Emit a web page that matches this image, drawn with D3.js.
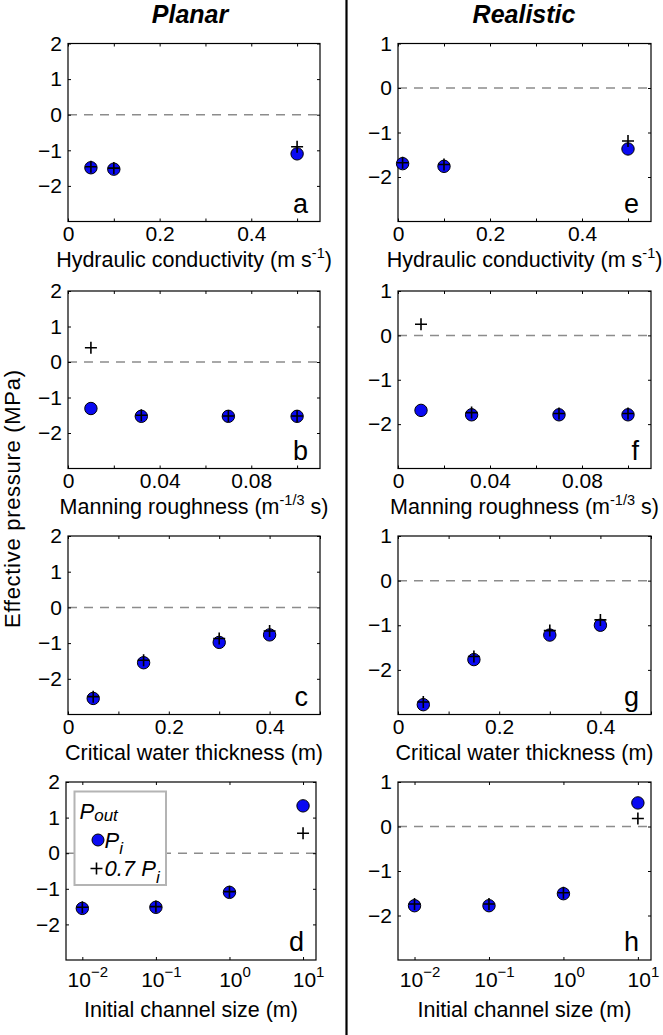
<!DOCTYPE html>
<html><head><meta charset="utf-8">
<script src="https://cdn.jsdelivr.net/npm/d3@7"></script>
<style>
html,body{margin:0;padding:0;background:#fff;}
svg{display:block;font-family:"Liberation Sans",Arial,Helvetica,sans-serif;}
</style></head>
<body>
<svg id="chart" width="663" height="1035"></svg>
<script>
// ---------- data ----------
const columnTitles = ["Planar", "Realistic"];
const yAxisTitle = "Effective pressure (MPa)";
const panelLetters = ["a", "b", "c", "d", "e", "f", "g", "h"];

const yTicksPlanar = [-2, -1, 0, 1, 2];
const yTicksRealistic = [-2, -1, 0, 1];

const hydTicks = [0, 0.1, 0.2, 0.3, 0.4, 0.5];
const hydTickLabels = [0, 0.2, 0.4];
const manningTicks = [0, 0.02, 0.04, 0.06, 0.08, 0.1];
const manningTickLabels = [0, 0.04, 0.08];
const critTicks = [0, 0.1, 0.2, 0.3, 0.4, 0.5];
const critTickLabels = [0, 0.2, 0.4];
const chanTicks = [0.01, 0.1, 1, 10];
const chanTickLabels = [0.01, 0.1, 1, 10];

// hydraulic conductivity (m s-1)
const hydPlanarX = [0.05, 0.1, 0.5];
const hydPlanarPi = [-1.49, -1.53, -1.10];
const hydPlanar07 = [-1.46, -1.50, -0.90];
const hydRealX = [0.01, 0.1, 0.5];
const hydRealPi = [-1.70, -1.76, -1.37];
const hydReal07 = [-1.68, -1.72, -1.19];
// Manning roughness
const manningX = [0.01, 0.032, 0.07, 0.1];
const manningPlanarPi = [-1.31, -1.53, -1.53, -1.53];
const manningPlanar07 = [0.40, -1.50, -1.52, -1.52];
const manningRealPi = [-1.69, -1.79, -1.79, -1.79];
const manningReal07 = [0.25, -1.74, -1.76, -1.76];
// critical water thickness
const critX = [0.05, 0.15, 0.3, 0.4];
const critPlanarPi = [-2.55, -1.55, -0.98, -0.77];
const critPlanar07 = [-2.50, -1.48, -0.87, -0.66];
const critRealPi = [-2.78, -1.77, -1.22, -1.00];
const critReal07 = [-2.72, -1.70, -1.12, -0.88];
// initial channel size
const chanX = [0.01, 0.1, 1, 10];
const chanPlanarPi = [-1.55, -1.52, -1.10, 1.33];
const chanPlanar07 = [-1.52, -1.50, -1.08, 0.56];
const chanRealPi = [-1.78, -1.78, -1.51, 0.53];
const chanReal07 = [-1.74, -1.74, -1.49, 0.18];

const legendLabels = ["P", "out", "P", "i", "0.7 P", "i"];

// ---------- layout ----------
const svg = d3.select("#chart");
const TICK_FONT = 21;
const TITLE_FONT = 21.5;
const BLUE = "#0a0af2";
const colX = [[68, 320], [398, 651]];
const rowY = [[43.5, 221.5], [291, 468.5], [536, 714.5], [782, 960]];

const xConfigs = [
  {type: "lin", dom: [0, 0.55], ticks: hydTicks, labels: hydTickLabels,
   title: ["Hydraulic conductivity (m s", "-1", ")"]},
  {type: "lin", dom: [0, 0.11], ticks: manningTicks, labels: manningTickLabels,
   title: ["Manning roughness (m", "-1/3", " s)"]},
  {type: "lin", dom: [0, 0.5], ticks: critTicks, labels: critTickLabels,
   title: ["Critical water thickness (m)"]},
  {type: "log", dom: [0.006, 15], ticks: chanTicks, labels: chanTickLabels,
   title: ["Initial channel size (m)"]}
];

const panelData = [
  [ {x: hydPlanarX, pi: hydPlanarPi, p07: hydPlanar07},
    {x: manningX, pi: manningPlanarPi, p07: manningPlanar07},
    {x: critX, pi: critPlanarPi, p07: critPlanar07},
    {x: chanX, pi: chanPlanarPi, p07: chanPlanar07} ],
  [ {x: hydRealX, pi: hydRealPi, p07: hydReal07},
    {x: manningX, pi: manningRealPi, p07: manningReal07},
    {x: critX, pi: critRealPi, p07: critReal07},
    {x: chanX, pi: chanRealPi, p07: chanReal07} ]
];

const crossPath = "M-6,0H6M0,-6V6";

// column titles
columnTitles.forEach((t, c) => {
  svg.append("text").attr("x", c === 0 ? 190 : 524).attr("y", 23)
    .attr("text-anchor", "middle").attr("font-size", 25)
    .attr("font-weight", "bold").attr("font-style", "italic").text(t);
});

// divider
svg.append("line").attr("x1", 346.5).attr("x2", 346.5).attr("y1", 0).attr("y2", 1035)
  .attr("stroke", "#000").attr("stroke-width", 2.2);

// y-axis title
svg.append("text").attr("transform", "translate(20,499) rotate(-90)")
  .attr("text-anchor", "middle").attr("font-size", 22)
  .attr("textLength", 258).attr("lengthAdjust", "spacing").text(yAxisTitle);

for (let c = 0; c < 2; c++) {
  for (let r = 0; r < 4; r++) {
    let [L, R] = colX[c];
    if (c === 0 && r === 3) { L = 66; R = 316; }
    const [T, B] = rowY[r];
    const W = R - L, H = B - T;
    const cfg = xConfigs[r];
    const d = panelData[c][r];
    const g = svg.append("g").attr("transform", `translate(${L},${T})`);

    const x = (cfg.type === "log" ? d3.scaleLog() : d3.scaleLinear()).domain(cfg.dom).range([0, W]);
    const y = d3.scaleLinear().domain([-3, c === 0 ? 2 : 1]).range([H, 0]);
    const yt = c === 0 ? yTicksPlanar : yTicksRealistic;

    // zero line
    g.append("line").attr("x1", 0).attr("x2", W).attr("y1", y(0)).attr("y2", y(0))
      .attr("stroke", "#8c8c8c").attr("stroke-width", 1.5).attr("stroke-dasharray", "9,7");

    // axes
    const styleAxis = sel => {
      sel.select(".domain").remove();
      sel.attr("font-family", null).attr("font-size", TICK_FONT);
      sel.selectAll(".tick line").attr("stroke", "#000");
      sel.selectAll(".tick text").attr("fill", "#000");
    };
    const isLab = v => cfg.labels.some(l => Math.abs(l - v) < 1e-9);
    let fmt;
    if (cfg.type === "log") fmt = v => isLab(v) ? String(Math.round(Math.log10(v))) : "";
    else fmt = v => isLab(v) ? String(+v.toFixed(3)) : "";

    const xb = g.append("g").attr("transform", `translate(0,${H})`)
      .call(d3.axisBottom(x).tickValues(cfg.ticks).tickSize(-3)
        .tickPadding(cfg.type === "log" ? 12 : 5).tickFormat(fmt))
      .call(styleAxis);
    if (cfg.type === "log") {
      xb.selectAll(".tick text").each(function() {
        const t = d3.select(this);
        const e = t.text();
        t.text("").attr("font-size", 21);
        t.append("tspan").text("10");
        t.append("tspan").attr("dy", -10).attr("font-size", 15)
          .text(e.replace("-", "\u2212"));
      });
      xb.selectAll(".tick text").attr("dx", 5);
    }
    g.append("g").call(d3.axisTop(x).tickValues(cfg.ticks).tickSize(-3).tickFormat(""))
      .call(styleAxis);
    g.append("g").call(d3.axisLeft(y).tickValues(yt).tickSize(-3).tickPadding(6)
      .tickFormat(d3.format(".0f"))).call(styleAxis);
    g.append("g").attr("transform", `translate(${W},0)`)
      .call(d3.axisRight(y).tickValues(yt).tickSize(-3).tickFormat("")).call(styleAxis);

    // box
    g.append("rect").attr("width", W).attr("height", H)
      .attr("fill", "none").attr("stroke", "#000").attr("stroke-width", 1.2);

    // points
    const pts = d.x.map((xv, i) => ({x: xv, pi: d.pi[i], p07: d.p07[i]}));
    g.selectAll("circle.pi").data(pts).join("circle").attr("class", "pi")
      .attr("cx", p => x(p.x)).attr("cy", p => y(p.pi)).attr("r", 6.2)
      .attr("fill", BLUE).attr("stroke", "#000").attr("stroke-width", 1);
    g.selectAll("path.p07").data(pts).join("path").attr("class", "p07")
      .attr("transform", p => `translate(${x(p.x)},${y(p.p07)})`)
      .attr("d", crossPath).attr("stroke", "#000").attr("stroke-width", 1.6).attr("fill", "none");

    // panel letter
    g.append("text").attr("x", W - 12).attr("y", H - 9).attr("text-anchor", "end")
      .attr("font-size", 27).text(panelLetters[c * 4 + r]);

    // x title
    const xt = g.append("text").attr("x", W / 2)
      .attr("y", H + (cfg.type === "log" ? 57 : 45))
      .attr("text-anchor", "middle").attr("font-size", TITLE_FONT);
    xt.append("tspan").text(cfg.title[0]);
    if (cfg.title.length > 1) {
      xt.append("tspan").attr("dy", -9).attr("font-size", 14.5).text(cfg.title[1]);
      xt.append("tspan").attr("dy", 9).text(cfg.title[2]);
    }

    // legend in panel d
    if (c === 0 && r === 3) {
      const lg = g.append("g").attr("transform", "translate(8.5,9.5)");
      lg.append("rect").attr("width", 91.5).attr("height", 93.5)
        .attr("fill", "#fff").attr("stroke", "#b4b4b4").attr("stroke-width", 2);
      const t1 = lg.append("text").attr("x", 5).attr("y", 27).attr("font-size", 22)
        .attr("font-style", "italic");
      t1.append("tspan").text(legendLabels[0]);
      t1.append("tspan").attr("dy", 2).attr("font-size", 17).text(legendLabels[1]);
      lg.append("circle").attr("cx", 23.5).attr("cy", 48.5).attr("r", 6)
        .attr("fill", BLUE).attr("stroke", "#000");
      const t2 = lg.append("text").attr("x", 30).attr("y", 56).attr("font-size", 22)
        .attr("font-style", "italic");
      t2.append("tspan").text(legendLabels[2]);
      t2.append("tspan").attr("dy", 6).attr("font-size", 17).text(legendLabels[3]);
      lg.append("path").attr("transform", "translate(22,77)").attr("d", crossPath)
        .attr("stroke", "#000").attr("stroke-width", 1.6);
      const t3 = lg.append("text").attr("x", 30).attr("y", 84).attr("font-size", 22)
        .attr("font-style", "italic");
      t3.append("tspan").text(legendLabels[4]);
      t3.append("tspan").attr("dy", 7).attr("font-size", 17).text(legendLabels[5]);
    }
  }
}
</script>
</body></html>
